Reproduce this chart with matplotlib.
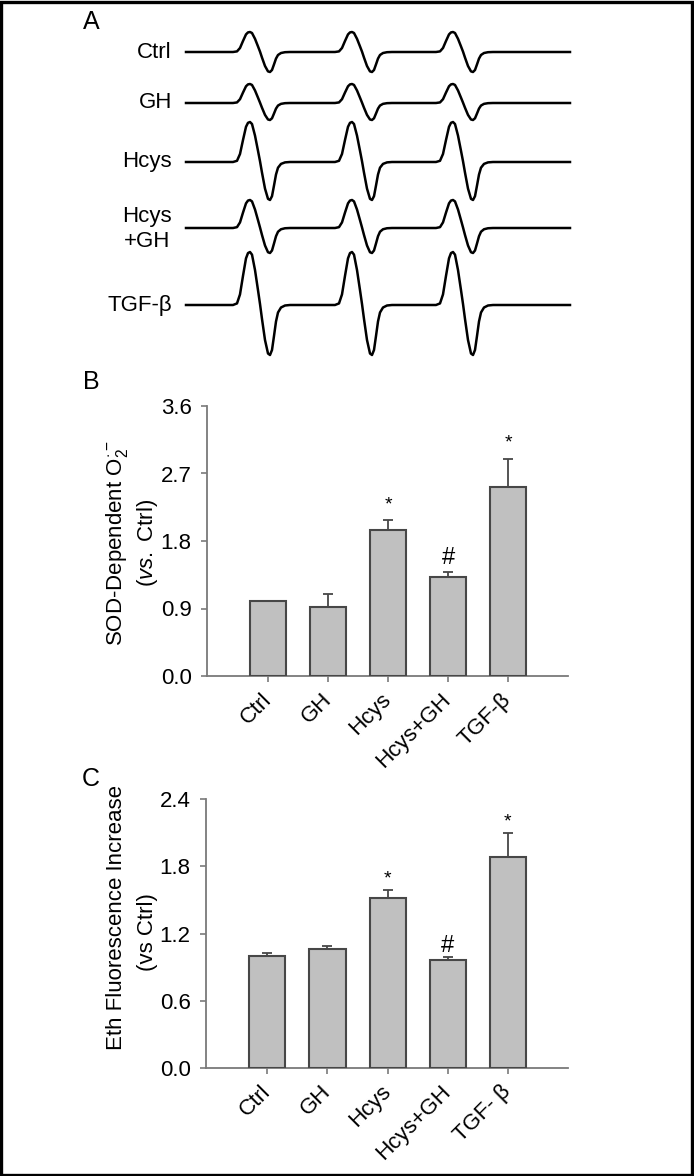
import matplotlib
matplotlib.use('Agg')
import matplotlib.pyplot as plt
import numpy as np
from matplotlib.patches import Rectangle

plt.rcParams['font.family'] = ['Liberation Sans', 'DejaVu Sans']
plt.rcParams['mathtext.fontset'] = 'custom'
plt.rcParams['mathtext.rm'] = 'Liberation Sans'
plt.rcParams['mathtext.it'] = 'Liberation Sans:italic'

# ---- bar data (panels B, C) ----
groups_b = ['Ctrl', 'GH', 'Hcys', 'Hcys+GH', 'TGF-β']
groups_c = ['Ctrl', 'GH', 'Hcys', 'Hcys+GH', 'TGF- β']
sod = [1.0, 0.92, 1.95, 1.32, 2.52]
sod_err = [0.0, 0.17, 0.13, 0.07, 0.38]
eth = [1.0, 1.06, 1.52, 0.96, 1.88]
eth_err = [0.03, 0.03, 0.07, 0.03, 0.22]
marks = ['', '', '*', '#', '*']

# ---- EPR spectra (panel A), amplitudes in pixels ----
epr_names = ['Ctrl', 'GH', 'Hcys', 'Hcys\n+GH', 'TGF-β']
epr_up = [20, 19, 40, 28, 53]
epr_down = [20, 17, 38, 25, 50]
epr_lines = [250, 352, 453]
shape_dx = [-17, -13, -10, -7, -4, -2, 0, 2, 5, 8, 10, 12, 15, 18, 20, 22, 24, 26, 28, 31, 35, 40]
shape_y = [0, 0.03, 0.2, 0.55, 0.88, 0.98, 1.0, 0.95, 0.66, 0.28, 0.02,
           -0.28, -0.7, -0.97, -1.0, -0.9, -0.62, -0.33, -0.15, -0.05, -0.01, 0.0]

FS = 16
BAR = '#c0c0c0'
EDGE = '#474747'
AX = '#7a7a7a'

fig = plt.figure(figsize=(6.94, 11.76), dpi=100)

# background axes in pixel units for panel A, labels and frame
bg = fig.add_axes([0, 0, 1, 1])
bg.set_xlim(0, 694)
bg.set_ylim(1176, 0)
bg.axis('off')

bg.add_patch(Rectangle((1.5, 1.5), 691, 1173, fill=False, edgecolor='black', linewidth=2.4))

baselines = [52, 103, 162, 228, 305]
label_y = [52, 103, 162, 229, 305]
for i in range(len(epr_names)):
    xs = [186]
    ys = [0.0]
    for c in epr_lines:
        for dx, sy in zip(shape_dx, shape_y):
            xs.append(c + dx)
            ys.append(sy * (epr_up[i] if sy > 0 else epr_down[i]))
    xs.append(570)
    ys.append(0.0)
    bg.plot(xs, baselines[i] - np.array(ys), color='black', linewidth=1.8,
            solid_joinstyle='round')
    bg.text(172, label_y[i], epr_names[i], ha='right', va='center', fontsize=FS,
            multialignment='center', linespacing=1.2)

bg.text(91, 22, 'A', ha='center', va='center', fontsize=18)
bg.text(91, 382, 'B', ha='center', va='center', fontsize=18)
bg.text(91, 779, 'C', ha='center', va='center', fontsize=18)

bg.text(117, 543, r'SOD-Dependent O$_2^{\cdot-}$', rotation=90, ha='center', va='center', fontsize=FS)
bg.text(148, 543, r'($\mathit{vs.}$ Ctrl)', rotation=90, ha='center', va='center', fontsize=FS)
bg.text(117, 917, 'Eth Fluorescence Increase', rotation=90, ha='center', va='center', fontsize=FS)
bg.text(148, 932, '(vs Ctrl)', rotation=90, ha='center', va='center', fontsize=FS)


def bar_panel(rect, vals, errs, labels, ymax, ticks, star_off):
    ax = fig.add_axes(rect)
    ax.patch.set_alpha(0)
    x = np.arange(len(vals))
    ax.bar(x, vals, width=0.6, color=BAR, edgecolor=EDGE, linewidth=1.5, zorder=3)
    e = np.array(errs)
    m = e > 0
    ax.errorbar(x[m], np.array(vals)[m], yerr=[np.zeros(m.sum()), e[m]], fmt='none',
                ecolor=EDGE, elinewidth=1.3, capsize=3.5, capthick=1.3, zorder=2)
    for xi, v, er, mk in zip(x, vals, errs, marks):
        if mk:
            ax.annotate(mk, (xi, v + er), xytext=(0, star_off[mk]), textcoords='offset points',
                        ha='center', va='center', fontsize=14 if mk == '*' else FS + 1)
    ax.set_xlim(-1.02, 5.0)
    ax.set_ylim(0, ymax)
    ax.set_yticks(ticks)
    ax.set_yticklabels(['%.1f' % t for t in ticks])
    ax.set_xticks(x)
    ax.set_xticklabels(labels, rotation=45, ha='right', va='center', rotation_mode='anchor')
    for s in ['top', 'right']:
        ax.spines[s].set_visible(False)
    for s in ['left', 'bottom']:
        ax.spines[s].set_color(AX)
        ax.spines[s].set_linewidth(1.3)
    ax.tick_params(axis='y', direction='out', length=4, width=1.2, color=AX, labelsize=FS, pad=7)
    ax.tick_params(axis='x', direction='out', length=4, width=1.2, color=AX, labelsize=FS, pad=11)
    return ax


bar_panel([207 / 694, (1176 - 676) / 1176, 361 / 694, 270 / 1176], sod, sod_err, groups_b,
          3.6, [0.0, 0.9, 1.8, 2.7, 3.6], {'*': 11, '#': 10})
bar_panel([206 / 694, (1176 - 1068) / 1176, 362 / 694, 269 / 1176], eth, eth_err, groups_c,
          2.4, [0.0, 0.6, 1.2, 1.8, 2.4], {'*': 8, '#': 8})

fig.savefig('out.png', dpi=100)
